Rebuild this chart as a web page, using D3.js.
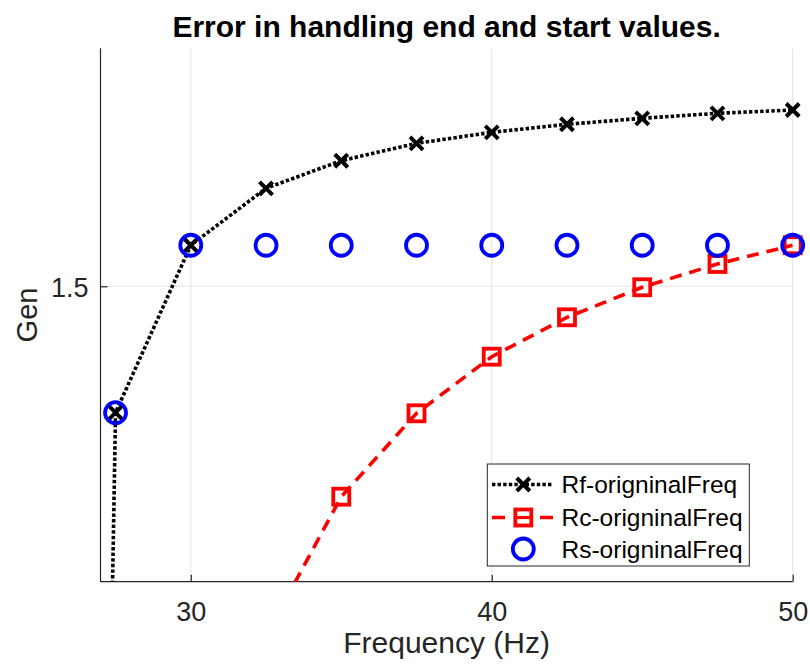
<!DOCTYPE html>
<html>
<head>
<meta charset="utf-8">
<script src="https://cdn.jsdelivr.net/npm/d3@7"></script>
<style>
  html, body { margin: 0; padding: 0; background: #fff; }
  svg { display: block; font-family: "Liberation Sans", Arial, Helvetica, sans-serif; }
</style>
</head>
<body>
<svg id="chart" width="810" height="669"></svg>
<script>
// Frequencies (Hz) sampled by each series
const freqRf = [25, 27.5, 30, 32.5, 35, 37.5, 40, 42.5, 45, 47.5, 50];
const genRf  = [-3.871, 1.346, 1.55, 1.6194, 1.653, 1.6742, 1.6876, 1.6974, 1.7047, 1.7108, 1.7148];

const freqRc = [32.5, 35, 37.5, 40, 42.5, 45, 47.5, 50];
const genRc  = [1.0738, 1.2436, 1.3452, 1.4142, 1.4622, 1.4988, 1.5272, 1.55];

const freqRs = [27.5, 30, 32.5, 35, 37.5, 40, 42.5, 45, 47.5, 50];
const genRs  = [1.346, 1.55, 1.55, 1.55, 1.55, 1.55, 1.55, 1.55, 1.55, 1.55];

const xTicks = [30, 40, 50];
const yTicks = [1.5];
const xDomain = [27, 50];
const yDomain = [1.14, 1.79];

const seriesNames = ["Rf-origninalFreq", "Rc-origninalFreq", "Rs-origninalFreq"];

(function draw() {
  const svg = d3.select("#chart");
  const pLeft = 100.5, pRight = 792.7, pTop = 48.3, pBottom = 581.7;
  const axisColor = "#262626";

  const x = d3.scaleLinear().domain(xDomain).range([pLeft, pRight]);
  const y = d3.scaleLinear().domain(yDomain).range([pBottom, pTop]);

  // clip region for the connecting lines
  svg.append("defs").append("clipPath").attr("id", "plotClip")
    .append("rect").attr("x", pLeft).attr("y", pTop)
    .attr("width", pRight - pLeft).attr("height", pBottom - pTop);

  // grid
  const grid = svg.append("g").attr("stroke", "#e3e3e3").attr("stroke-width", 1);
  xTicks.forEach(t => grid.append("line")
    .attr("x1", x(t)).attr("x2", x(t)).attr("y1", pTop).attr("y2", pBottom));
  yTicks.forEach(t => grid.append("line")
    .attr("x1", pLeft).attr("x2", pRight).attr("y1", y(t)).attr("y2", y(t)));

  // axes (ticks point inward)
  const xAxis = svg.append("g").attr("transform", `translate(0,${pBottom})`)
    .call(d3.axisBottom(x).tickValues(xTicks).tickSize(-7).tickSizeOuter(0)
      .tickFormat(d3.format("d")));
  const yAxis = svg.append("g").attr("transform", `translate(${pLeft},0)`)
    .call(d3.axisLeft(y).tickValues(yTicks).tickSize(-7).tickSizeOuter(0)
      .tickFormat(d3.format(".1f")));
  [xAxis, yAxis].forEach(a => {
    a.select(".domain").attr("stroke", axisColor).attr("stroke-width", 1.2);
    a.selectAll(".tick line").attr("stroke", axisColor).attr("stroke-width", 1.2);
    a.selectAll(".tick text").attr("fill", axisColor).attr("font-size", 27)
      .attr("font-family", "Liberation Sans, Arial, sans-serif");
  });
  xAxis.select(".domain").attr("d", `M${pLeft},0H${pRight}`);
  yAxis.select(".domain").attr("d", `M0,${pTop}V${pBottom}`);
  xAxis.selectAll(".tick text").attr("dy", null).attr("y", 39);
  yAxis.selectAll(".tick text").attr("dy", null).attr("x", -12).attr("y", 10.5);

  const line = (xs, ys) => d3.line().x((d, i) => x(xs[i])).y((d, i) => y(ys[i]))(xs);

  const plot = svg.append("g");
  const lines = plot.append("g").attr("clip-path", "url(#plotClip)");

  // Rf: black dotted line
  lines.append("path").attr("d", line(freqRf, genRf))
    .attr("fill", "none").attr("stroke", "#000").attr("stroke-width", 3.6)
    .attr("stroke-dasharray", "3.4,2.2");

  // Rc: red dashed line
  lines.append("path").attr("d", line(freqRc, genRc))
    .attr("fill", "none").attr("stroke", "#ff0000").attr("stroke-width", 3.6)
    .attr("stroke-dasharray", "12,8");

  function xMark(g, cx, cy, s) {
    g.append("path").attr("d", `M${cx - s},${cy - s}L${cx + s},${cy + s}M${cx - s},${cy + s}L${cx + s},${cy - s}`)
      .attr("stroke", "#000").attr("stroke-width", 4).attr("fill", "none");
  }
  function sqMark(g, cx, cy, s) {
    g.append("rect").attr("x", cx - s).attr("y", cy - s).attr("width", 2 * s).attr("height", 2 * s)
      .attr("stroke", "#ff0000").attr("stroke-width", 3.8).attr("fill", "none");
  }
  function oMark(g, cx, cy, r) {
    g.append("circle").attr("cx", cx).attr("cy", cy).attr("r", r)
      .attr("stroke", "#0000ff").attr("stroke-width", 3.8).attr("fill", "none");
  }

  const markers = plot.append("g");
  freqRf.forEach((f, i) => {
    if (f >= xDomain[0] && genRf[i] >= yDomain[0]) xMark(markers, x(f), y(genRf[i]), 6.5);
  });
  freqRc.forEach((f, i) => {
    if (genRc[i] >= yDomain[0]) sqMark(markers, x(f), y(genRc[i]), 8);
  });
  freqRs.forEach((f, i) => oMark(markers, x(f), y(genRs[i]), 10.5));

  // title and axis labels
  svg.append("text").attr("x", (pLeft + pRight) / 2).attr("y", 37)
    .attr("text-anchor", "middle").attr("font-weight", "bold").attr("font-size", 30)
    .attr("fill", "#000").text("Error in handling end and start values.");
  svg.append("text").attr("x", (pLeft + pRight) / 2).attr("y", 652.7)
    .attr("text-anchor", "middle").attr("font-size", 30).attr("fill", axisColor)
    .text("Frequency (Hz)");
  svg.append("text").attr("transform", `translate(36.5,${(pTop + pBottom) / 2}) rotate(-90)`)
    .attr("text-anchor", "middle").attr("font-size", 29).attr("fill", axisColor)
    .text("Gen");

  // legend
  const lg = svg.append("g");
  lg.append("rect").attr("x", 487.3).attr("y", 464).attr("width", 262).attr("height", 102)
    .attr("fill", "#fff").attr("stroke", axisColor).attr("stroke-width", 1);
  const rowY = [484.5, 517.5, 549];
  const sx0 = 492, sx1 = 553, smid = 523.3;
  lg.append("line").attr("x1", sx0).attr("x2", sx1).attr("y1", rowY[0]).attr("y2", rowY[0])
    .attr("stroke", "#000").attr("stroke-width", 3.6).attr("stroke-dasharray", "3.4,2.2");
  xMark(lg, smid, rowY[0], 6.5);
  lg.append("line").attr("x1", sx0).attr("x2", sx1).attr("y1", rowY[1]).attr("y2", rowY[1])
    .attr("stroke", "#ff0000").attr("stroke-width", 3.6).attr("stroke-dasharray", "13,35");
  sqMark(lg, smid, rowY[1], 8);
  lg.append("line").attr("x1", smid - 7).attr("x2", smid + 7).attr("y1", rowY[1]).attr("y2", rowY[1])
    .attr("stroke", "#ff0000").attr("stroke-width", 3.2);
  oMark(lg, smid, rowY[2], 10.5);
  seriesNames.forEach((name, i) => {
    lg.append("text").attr("x", 561.5).attr("y", rowY[i] + 8.5)
      .attr("font-size", 24.5).attr("fill", "#000").text(name);
  });
})();
</script>
</body>
</html>
